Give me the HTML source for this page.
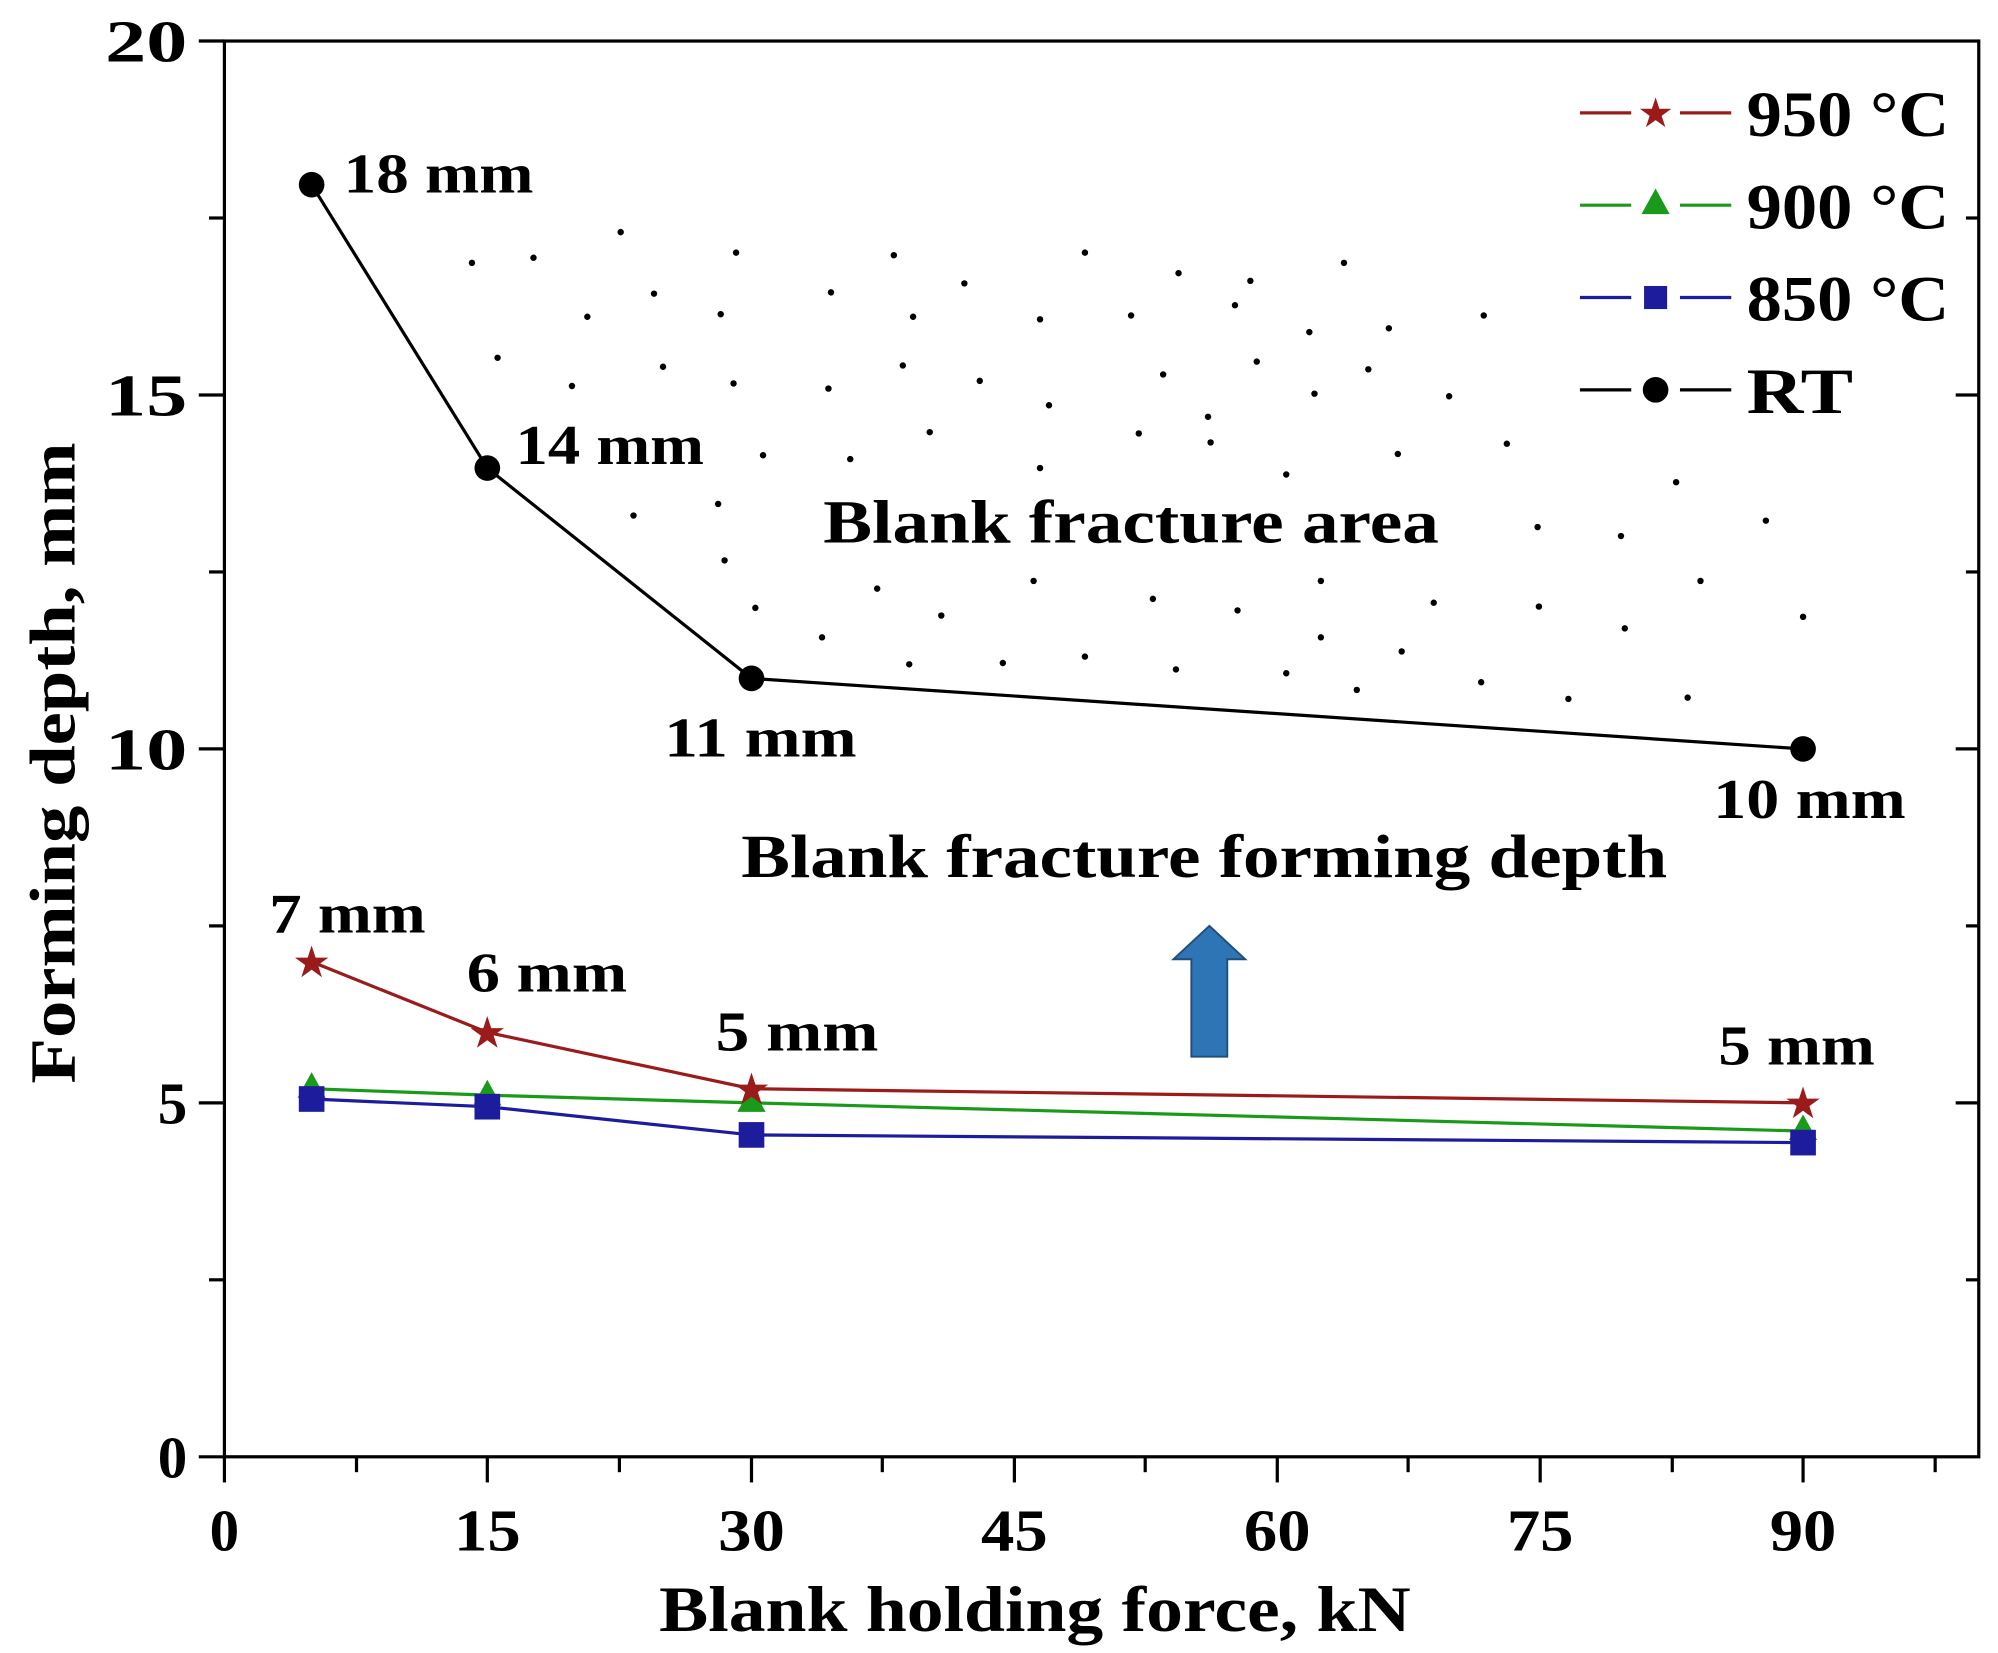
<!DOCTYPE html>
<html><head><style>body{margin:0;background:#fff}svg{display:block}</style></head><body>
<svg width="1998" height="1653" viewBox="0 0 1558 1289" preserveAspectRatio="none" xmlns="http://www.w3.org/2000/svg" font-family="Liberation Serif, serif" font-weight="bold">
<rect x="175" y="32" width="1368" height="1104" fill="none" stroke="#000" stroke-width="2.5"/>
<g stroke="#000" stroke-width="2.5">
<line x1="155" y1="1136" x2="175" y2="1136"/><line x1="155" y1="860" x2="175" y2="860"/><line x1="155" y1="584" x2="175" y2="584"/><line x1="155" y1="308" x2="175" y2="308"/><line x1="155" y1="32" x2="175" y2="32"/>
<line x1="163" y1="998" x2="175" y2="998"/><line x1="163" y1="722" x2="175" y2="722"/><line x1="163" y1="446" x2="175" y2="446"/><line x1="163" y1="170" x2="175" y2="170"/>
<line x1="1525" y1="860" x2="1543" y2="860"/><line x1="1525" y1="584" x2="1543" y2="584"/><line x1="1525" y1="308" x2="1543" y2="308"/>
<line x1="1533" y1="998" x2="1543" y2="998"/><line x1="1533" y1="722" x2="1543" y2="722"/><line x1="1533" y1="446" x2="1543" y2="446"/><line x1="1533" y1="170" x2="1543" y2="170"/>
<line x1="175" y1="1136" x2="175" y2="1156"/><line x1="380" y1="1136" x2="380" y2="1156"/><line x1="586" y1="1136" x2="586" y2="1156"/><line x1="791" y1="1136" x2="791" y2="1156"/><line x1="996" y1="1136" x2="996" y2="1156"/><line x1="1201" y1="1136" x2="1201" y2="1156"/><line x1="1406" y1="1136" x2="1406" y2="1156"/>
<line x1="278" y1="1136" x2="278" y2="1148"/><line x1="483" y1="1136" x2="483" y2="1148"/><line x1="688" y1="1136" x2="688" y2="1148"/><line x1="893" y1="1136" x2="893" y2="1148"/><line x1="1098" y1="1136" x2="1098" y2="1148"/><line x1="1304" y1="1136" x2="1304" y2="1148"/><line x1="1509" y1="1136" x2="1509" y2="1148"/>
</g>
<g font-size="46" text-anchor="end">
<text x="146" y="1152">0</text><text x="146" y="876">5</text><text x="146" y="600" textLength="64" lengthAdjust="spacingAndGlyphs">10</text><text x="146" y="324" textLength="64" lengthAdjust="spacingAndGlyphs">15</text><text x="146" y="48" textLength="64" lengthAdjust="spacingAndGlyphs">20</text>
</g>
<g font-size="46" text-anchor="middle">
<text x="175" y="1209">0</text><text x="380" y="1209" textLength="52" lengthAdjust="spacingAndGlyphs">15</text><text x="586" y="1209" textLength="52" lengthAdjust="spacingAndGlyphs">30</text><text x="791" y="1209" textLength="52" lengthAdjust="spacingAndGlyphs">45</text><text x="996" y="1209" textLength="52" lengthAdjust="spacingAndGlyphs">60</text><text x="1201" y="1209" textLength="52" lengthAdjust="spacingAndGlyphs">75</text><text x="1406" y="1209" textLength="52" lengthAdjust="spacingAndGlyphs">90</text>
</g>
<text x="514" y="1272" font-size="50" textLength="586" lengthAdjust="spacingAndGlyphs">Blank holding force, kN</text>
<text transform="translate(58,845) rotate(-90)" font-size="50" textLength="500" lengthAdjust="spacingAndGlyphs">Forming depth, mm</text>
<g fill="#000">
<circle cx="368" cy="205" r="2.5"/><circle cx="416" cy="201" r="2.5"/><circle cx="484" cy="181" r="2.5"/><circle cx="574" cy="197" r="2.5"/><circle cx="697" cy="199" r="2.5"/><circle cx="846" cy="197" r="2.5"/><circle cx="919" cy="213" r="2.5"/><circle cx="975" cy="219" r="2.5"/><circle cx="1048" cy="205" r="2.5"/>
<circle cx="458" cy="247" r="2.5"/><circle cx="510" cy="229" r="2.5"/><circle cx="562" cy="245" r="2.5"/><circle cx="648" cy="228" r="2.5"/><circle cx="712" cy="247" r="2.5"/><circle cx="752" cy="221" r="2.5"/><circle cx="811" cy="249" r="2.5"/><circle cx="882" cy="246" r="2.5"/><circle cx="963" cy="238" r="2.5"/><circle cx="1021" cy="259" r="2.5"/><circle cx="1083" cy="256" r="2.5"/><circle cx="1157" cy="246" r="2.5"/>
<circle cx="388" cy="279" r="2.5"/><circle cx="446" cy="301" r="2.5"/><circle cx="517" cy="286" r="2.5"/><circle cx="572" cy="299" r="2.5"/><circle cx="646" cy="303" r="2.5"/><circle cx="704" cy="285" r="2.5"/><circle cx="764" cy="297" r="2.5"/><circle cx="818" cy="316" r="2.5"/><circle cx="907" cy="292" r="2.5"/><circle cx="942" cy="325" r="2.5"/><circle cx="980" cy="282" r="2.5"/><circle cx="1025" cy="307" r="2.5"/><circle cx="1067" cy="288" r="2.5"/><circle cx="1130" cy="309" r="2.5"/>
<circle cx="595" cy="355" r="2.5"/><circle cx="663" cy="358" r="2.5"/><circle cx="725" cy="337" r="2.5"/><circle cx="811" cy="365" r="2.5"/><circle cx="888" cy="338" r="2.5"/><circle cx="944" cy="345" r="2.5"/><circle cx="1003" cy="370" r="2.5"/><circle cx="1090" cy="354" r="2.5"/><circle cx="1175" cy="346" r="2.5"/><circle cx="1307" cy="376" r="2.5"/>
<circle cx="494" cy="402" r="2.5"/><circle cx="560" cy="393" r="2.5"/><circle cx="1199" cy="411" r="2.5"/><circle cx="1264" cy="418" r="2.5"/><circle cx="1377" cy="406" r="2.5"/>
<circle cx="565" cy="437" r="2.5"/><circle cx="684" cy="459" r="2.5"/><circle cx="806" cy="453" r="2.5"/><circle cx="899" cy="467" r="2.5"/><circle cx="1030" cy="453" r="2.5"/><circle cx="1118" cy="470" r="2.5"/><circle cx="1326" cy="453" r="2.5"/><circle cx="965" cy="476" r="2.5"/><circle cx="1200" cy="473" r="2.5"/><circle cx="1406" cy="481" r="2.5"/>
<circle cx="734" cy="480" r="2.5"/><circle cx="589" cy="474" r="2.5"/><circle cx="641" cy="497" r="2.5"/><circle cx="1030" cy="497" r="2.5"/><circle cx="1267" cy="490" r="2.5"/><circle cx="1093" cy="508" r="2.5"/>
<circle cx="709" cy="518" r="2.5"/><circle cx="782" cy="517" r="2.5"/><circle cx="846" cy="512" r="2.5"/><circle cx="917" cy="522" r="2.5"/><circle cx="1003" cy="525" r="2.5"/><circle cx="1155" cy="532" r="2.5"/><circle cx="1058" cy="538" r="2.5"/><circle cx="1223" cy="545" r="2.5"/><circle cx="1316" cy="544" r="2.5"/>
</g>
<polyline points="243,144 380,365 586,529 1406,584" fill="none" stroke="#000" stroke-width="2.5"/>
<polyline points="243,750 380,805 586,849 1406,860" fill="none" stroke="#9b1b1b" stroke-width="2.5"/>
<polyline points="243,849 380,854 586,860 1406,882" fill="none" stroke="#1a9a1a" stroke-width="2.5"/>
<polyline points="243,857 380,863 586,885 1406,891" fill="none" stroke="#1c1c9c" stroke-width="2.5"/>
<g fill="#000"><circle cx="243" cy="144" r="10"/><circle cx="380" cy="365" r="10"/><circle cx="586" cy="529" r="10"/><circle cx="1406" cy="584" r="10"/></g>
<g fill="#1a9a1a"><polygon points="243,836 254,856 232,856"/><polygon points="380,842 391,862 369,862"/><polygon points="586,847 597,867 575,867"/><polygon points="1406,869 1417,889 1395,889"/></g>
<g fill="#1c1c9c"><rect x="233" y="847" width="20" height="20"/><rect x="370" y="853" width="20" height="20"/><rect x="576" y="875" width="20" height="20"/><rect x="1396" y="881" width="20" height="20"/></g>
<g fill="#9b1b1b" font-size="34" text-anchor="middle" font-weight="normal">
<text x="243" y="762">★</text><text x="380" y="817">★</text><text x="586" y="861">★</text><text x="1406" y="872">★</text>
</g>
<g font-size="44" lengthAdjust="spacingAndGlyphs">
<text x="268" y="150" textLength="148" lengthAdjust="spacingAndGlyphs">18 mm</text>
<text x="402" y="362" textLength="147" lengthAdjust="spacingAndGlyphs">14 mm</text>
<text x="518" y="590" textLength="150" lengthAdjust="spacingAndGlyphs">11 mm</text>
<text x="1336" y="638" textLength="150" lengthAdjust="spacingAndGlyphs">10 mm</text>
<text x="210" y="727" textLength="122" lengthAdjust="spacingAndGlyphs">7 mm</text>
<text x="364" y="773" textLength="125" lengthAdjust="spacingAndGlyphs">6 mm</text>
<text x="558" y="819" textLength="127" lengthAdjust="spacingAndGlyphs">5 mm</text>
<text x="1340" y="830" textLength="122" lengthAdjust="spacingAndGlyphs">5 mm</text>
<text x="642" y="423" font-size="48" textLength="480" lengthAdjust="spacingAndGlyphs">Blank fracture area</text>
<text x="578" y="684" font-size="48" textLength="722" lengthAdjust="spacingAndGlyphs">Blank fracture forming depth</text>
</g>
<polygon points="943,722 971,748 957,748 957,824 929,824 929,748 915,748" fill="#2e75b6" stroke="#1f4e79" stroke-width="1.5"/>
<g font-size="50">
<line x1="1232" y1="88" x2="1350" y2="88" stroke="#9b1b1b" stroke-width="2.5"/><rect x="1272" y="78" width="38" height="20" fill="#fff"/>
<text x="1291" y="99" fill="#9b1b1b" font-size="32" text-anchor="middle" font-weight="normal">★</text>
<text x="1362" y="106" textLength="158" lengthAdjust="spacingAndGlyphs">950 °C</text>
<line x1="1232" y1="160" x2="1350" y2="160" stroke="#1a9a1a" stroke-width="2.5"/><rect x="1272" y="148" width="38" height="24" fill="#fff"/>
<polygon points="1291,147 1302,167 1280,167" fill="#1a9a1a"/>
<text x="1362" y="178" textLength="158" lengthAdjust="spacingAndGlyphs">900 °C</text>
<line x1="1232" y1="232" x2="1350" y2="232" stroke="#1c1c9c" stroke-width="2.5"/><rect x="1272" y="220" width="38" height="24" fill="#fff"/>
<rect x="1282" y="223" width="18" height="18" fill="#1c1c9c"/>
<text x="1362" y="250" textLength="158" lengthAdjust="spacingAndGlyphs">850 °C</text>
<line x1="1232" y1="304" x2="1350" y2="304" stroke="#000" stroke-width="2.5"/><rect x="1272" y="292" width="38" height="24" fill="#fff"/>
<circle cx="1291" cy="304" r="10" fill="#000"/>
<text x="1362" y="322" textLength="83" lengthAdjust="spacingAndGlyphs">RT</text>
</g>
</svg>
</body></html>
